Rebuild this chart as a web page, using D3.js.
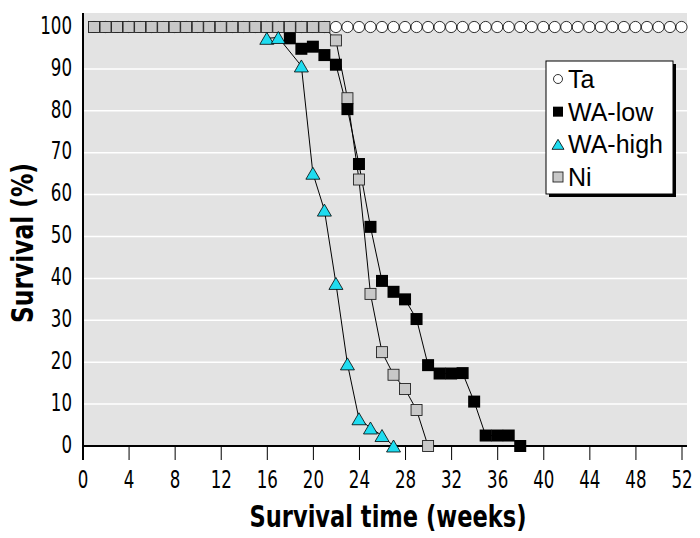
<!DOCTYPE html>
<html><head><meta charset="utf-8">
<script src="https://cdn.jsdelivr.net/npm/d3@7"></script>
<style>
body{margin:0;background:#fff;}
svg{display:block;}
</style></head>
<body><svg id="c" width="700" height="538"></svg>
<script>
// ---- data ----
const taWeeks = d3.range(1, 53);
const taValues = taWeeks.map(() => 100);

const waLowWeeks  = [18, 19, 20, 21, 22, 23, 24, 25, 26, 27, 28, 29, 30, 31, 32, 33, 34, 35, 36, 37, 38];
const waLowValues = [97.3, 94.8, 95.3, 93.3, 91, 80.4, 67.3, 52.3, 39.4, 36.8, 35, 30.3, 19.3, 17.3, 17.3, 17.4, 10.6, 2.5, 2.5, 2.5, 0];

const waHighWeeks  = [16, 17, 19, 20, 21, 22, 23, 24, 25, 26, 27];
const waHighValues = [97.3, 97.5, 90.7, 65.1, 56.3, 38.8, 19.6, 6.5, 4.3, 2.5, 0];

const niWeeks  = [1,2,3,4,5,6,7,8,9,10,11,12,13,14,15,16,17,18,19,20,21, 22, 23, 24, 25, 26, 27, 28, 29, 30];
const niValues = [100,100,100,100,100,100,100,100,100,100,100,100,100,100,100,100,100,100,100,100,100, 96.8, 83, 63.6, 36.3, 22.4, 17, 13.6, 8.6, 0];

const xTicks = d3.range(0, 53, 4);
const yTicks = d3.range(0, 101, 10);
const legendLabels = ["Ta", "WA-low", "WA-high", "Ni"];

// ---- chart ----
const svg = d3.select("#c");
const x = d3.scaleLinear().domain([0, 52]).range([82.5, 681.5]);
const y = d3.scaleLinear().domain([0, 100]).range([446, 27]);

const narrow = "'Liberation Sans Narrow','Arial Narrow','DejaVu Sans Condensed',sans-serif";
const reg = "'Liberation Sans',Arial,sans-serif";

// plot background
svg.append("rect").attr("x", 83).attr("y", 13).attr("width", 604).attr("height", 433).attr("fill", "#e3e3e3");

// gridlines
svg.append("g").selectAll("line").data(yTicks.filter(d => d > 0 && d < 100)).join("line")
  .attr("x1", 83).attr("x2", 687).attr("y1", d => y(d)).attr("y2", d => y(d))
  .attr("stroke", "#fff").attr("stroke-width", 1.5);

// axes
const squeeze = sel => sel.attr("textLength", function() { return this.textContent.length * 10.6; })
  .attr("lengthAdjust", "spacingAndGlyphs");

const xAxis = svg.append("g").attr("transform", "translate(0,446)")
  .call(d3.axisBottom(x).tickValues(xTicks).tickSize(14).tickPadding(10).tickFormat(d3.format("d")));
xAxis.select(".domain").remove();
xAxis.selectAll("line").attr("stroke", "#000").attr("stroke-width", 1);
xAxis.selectAll("text").attr("font-family", narrow).attr("font-size", 25).attr("fill", "#000").call(squeeze);

const yAxis = svg.append("g").attr("transform", "translate(83,0)")
  .call(d3.axisLeft(y).tickValues(yTicks).tickSize(0).tickPadding(11).tickFormat(d3.format("d")));
yAxis.select(".domain").remove();
yAxis.selectAll("text").attr("font-family", narrow).attr("font-size", 25).attr("fill", "#000").attr("dy", "0.25em").call(squeeze);

svg.append("line").attr("x1", 83).attr("x2", 687).attr("y1", 446).attr("y2", 446).attr("stroke", "#000").attr("stroke-width", 2);
svg.append("line").attr("x1", 83).attr("x2", 83).attr("y1", 13).attr("y2", 460).attr("stroke", "#000").attr("stroke-width", 2);

// series
const mk = (ws, vs) => ws.map((w, i) => ({w, v: vs[i]}));
const ta = mk(taWeeks, taValues), lo = mk(waLowWeeks, waLowValues), hi = mk(waHighWeeks, waHighValues), ni = mk(niWeeks, niValues);
const line = d3.line().x(d => x(d.w)).y(d => y(d.v));
const g = svg.append("g");
[ta, ni, lo, hi].forEach(s => g.append("path").attr("d", line(s)).attr("fill", "none").attr("stroke", "#000").attr("stroke-width", 1));

const tri = (w, h) => `M0,${-h/2}L${w/2},${h/2}L${-w/2},${h/2}Z`;

g.append("g").selectAll("circle").data(ta).join("circle")
  .attr("cx", d => x(d.w)).attr("cy", d => y(d.v)).attr("r", 5.6)
  .attr("fill", "#fff").attr("stroke", "#000").attr("stroke-width", 0.8);
g.append("g").selectAll("rect").data(ni).join("rect")
  .attr("x", d => x(d.w) - 5.5).attr("y", d => y(d.v) - 5.5).attr("width", 11).attr("height", 11)
  .attr("fill", "#c8c8c8").attr("stroke", "#222").attr("stroke-width", 0.9);
g.append("g").selectAll("rect").data(lo).join("rect")
  .attr("x", d => x(d.w) - 6).attr("y", d => y(d.v) - 6).attr("width", 12).attr("height", 12)
  .attr("fill", "#000");
g.append("g").selectAll("path").data(hi).join("path")
  .attr("transform", d => `translate(${x(d.w)},${y(d.v)})`).attr("d", tri(14, 12))
  .attr("fill", "#1fdcf0").attr("stroke", "#000").attr("stroke-width", 0.8);

// legend
const lg = svg.append("g");
lg.append("rect").attr("x", 549).attr("y", 64).attr("width", 127).attr("height", 133).attr("fill", "#000");
lg.append("rect").attr("x", 546).attr("y", 61).attr("width", 127).attr("height", 133).attr("fill", "#fff").attr("stroke", "#000").attr("stroke-width", 1);
const ly = d3.scalePoint().domain(legendLabels).range([79, 177]);
legendLabels.forEach(l => {
  const cy = ly(l);
  if (l === "Ta") lg.append("circle").attr("cx", 558).attr("cy", cy).attr("r", 4.5).attr("fill", "#fff").attr("stroke", "#000").attr("stroke-width", 0.8);
  if (l === "WA-low") lg.append("rect").attr("x", 553).attr("y", cy - 5).attr("width", 10).attr("height", 10).attr("fill", "#000");
  if (l === "WA-high") lg.append("path").attr("transform", `translate(558,${cy})`).attr("d", tri(12, 10)).attr("fill", "#1fdcf0").attr("stroke", "#000").attr("stroke-width", 0.8);
  if (l === "Ni") lg.append("rect").attr("x", 553).attr("y", cy - 5).attr("width", 10).attr("height", 10).attr("fill", "#c8c8c8").attr("stroke", "#222").attr("stroke-width", 0.9);
  lg.append("text").attr("x", 568).attr("y", cy).attr("dy", "0.36em").attr("font-family", reg).attr("font-size", 25).text(l);
});

// titles
svg.append("text").attr("x", 388).attr("y", 527).attr("text-anchor", "middle")
  .attr("font-family", narrow).attr("font-weight", "bold").attr("font-size", 31)
  .attr("textLength", 277).attr("lengthAdjust", "spacingAndGlyphs").text("Survival time (weeks)");
svg.append("text").attr("transform", "translate(33,243) rotate(-90)").attr("text-anchor", "middle")
  .attr("font-family", narrow).attr("font-weight", "bold").attr("font-size", 31)
  .attr("textLength", 160).attr("lengthAdjust", "spacingAndGlyphs").text("Survival (%)");
</script></body></html>
